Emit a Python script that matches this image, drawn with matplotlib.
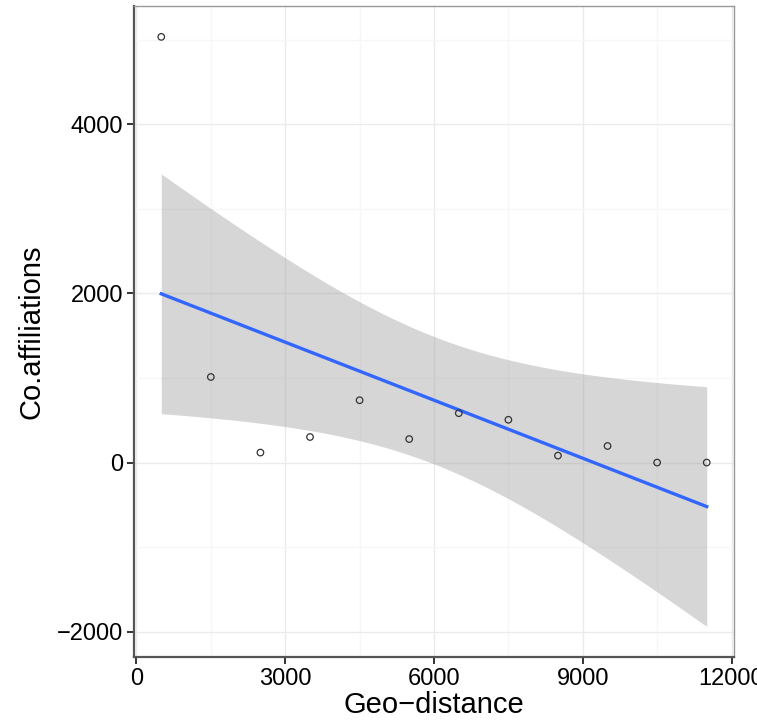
import numpy as np
import matplotlib

matplotlib.use("Agg")
import matplotlib.pyplot as plt

# Geo-distance bins and co-affiliation counts
geo_distance = [500, 1500, 2500, 3500, 4500, 5500, 6500, 7500, 8500, 9500, 10500, 11500]
co_affiliations = [5035, 1012, 118, 302, 737, 278, 584, 506, 82, 196, 0, 0]

x_ticks = [0, 3000, 6000, 9000, 12000]
y_ticks = [-2000, 0, 2000, 4000]

T_975_DF10 = 2.228  # Student t quantile, 95% CI, n - 2 = 10 dof


def linear_fit_band(x, y, grid):
    x = np.asarray(x, dtype=float)
    y = np.asarray(y, dtype=float)
    n = len(x)
    slope, intercept = np.polyfit(x, y, 1)
    resid = y - (intercept + slope * x)
    s = np.sqrt(np.sum(resid ** 2) / (n - 2))
    sxx = np.sum((x - x.mean()) ** 2)
    fit = intercept + slope * grid
    se = s * np.sqrt(1.0 / n + (grid - x.mean()) ** 2 / sxx)
    return fit, fit - T_975_DF10 * se, fit + T_975_DF10 * se


plt.rcParams["font.family"] = ["Liberation Sans", "DejaVu Sans"]

fig = plt.figure(figsize=(7.57, 7.25), dpi=100)
ax = fig.add_axes([0.177, 0.0938, 0.7926, 0.8979])

grid = np.linspace(min(geo_distance), max(geo_distance), 80)
fit, lo, hi = linear_fit_band(geo_distance, co_affiliations, grid)

ax.fill_between(grid, lo, hi, color="#999999", alpha=0.4, linewidth=0, zorder=2)
ax.plot(grid, fit, color="#3366FF", linewidth=2.4, zorder=3)
ax.scatter(geo_distance, co_affiliations, s=22, facecolors="none",
           edgecolors="#333333", linewidths=0.9, zorder=4)

ax.set_xlim(-50, 12050)
ax.set_ylim(-2300, 5400)
ax.set_xticks(x_ticks)
ax.set_xticklabels([str(v) for v in x_ticks])
ax.set_yticks(y_ticks)
ax.set_yticklabels([str(v).replace("-", "\u2212") for v in y_ticks])
ax.set_xticks([1500, 4500, 7500, 10500], minor=True)
ax.set_yticks([-1000, 1000, 3000, 5000], minor=True)

ax.grid(True, which="major", color="#EBEBEB", linewidth=1.0, zorder=0)
ax.grid(True, which="minor", color="#F7F7F7", linewidth=1.0, zorder=0)
ax.set_axisbelow(True)

for side in ["top", "right"]:
    ax.spines[side].set_color("#999999")
    ax.spines[side].set_linewidth(1.0)
for side in ["left", "bottom"]:
    ax.spines[side].set_color("#555555")
    ax.spines[side].set_linewidth(1.6)

ax.tick_params(which="major", length=5, width=1.4, color="#333333",
               labelsize=17, labelcolor="black", pad=3)
ax.tick_params(which="minor", length=0)

ax.set_xlabel("Geo\u2212distance", fontsize=21, labelpad=1)
ax.set_ylabel("Co.affiliations", fontsize=21, labelpad=8)

fig.savefig("out.png", dpi=100, facecolor="white")
